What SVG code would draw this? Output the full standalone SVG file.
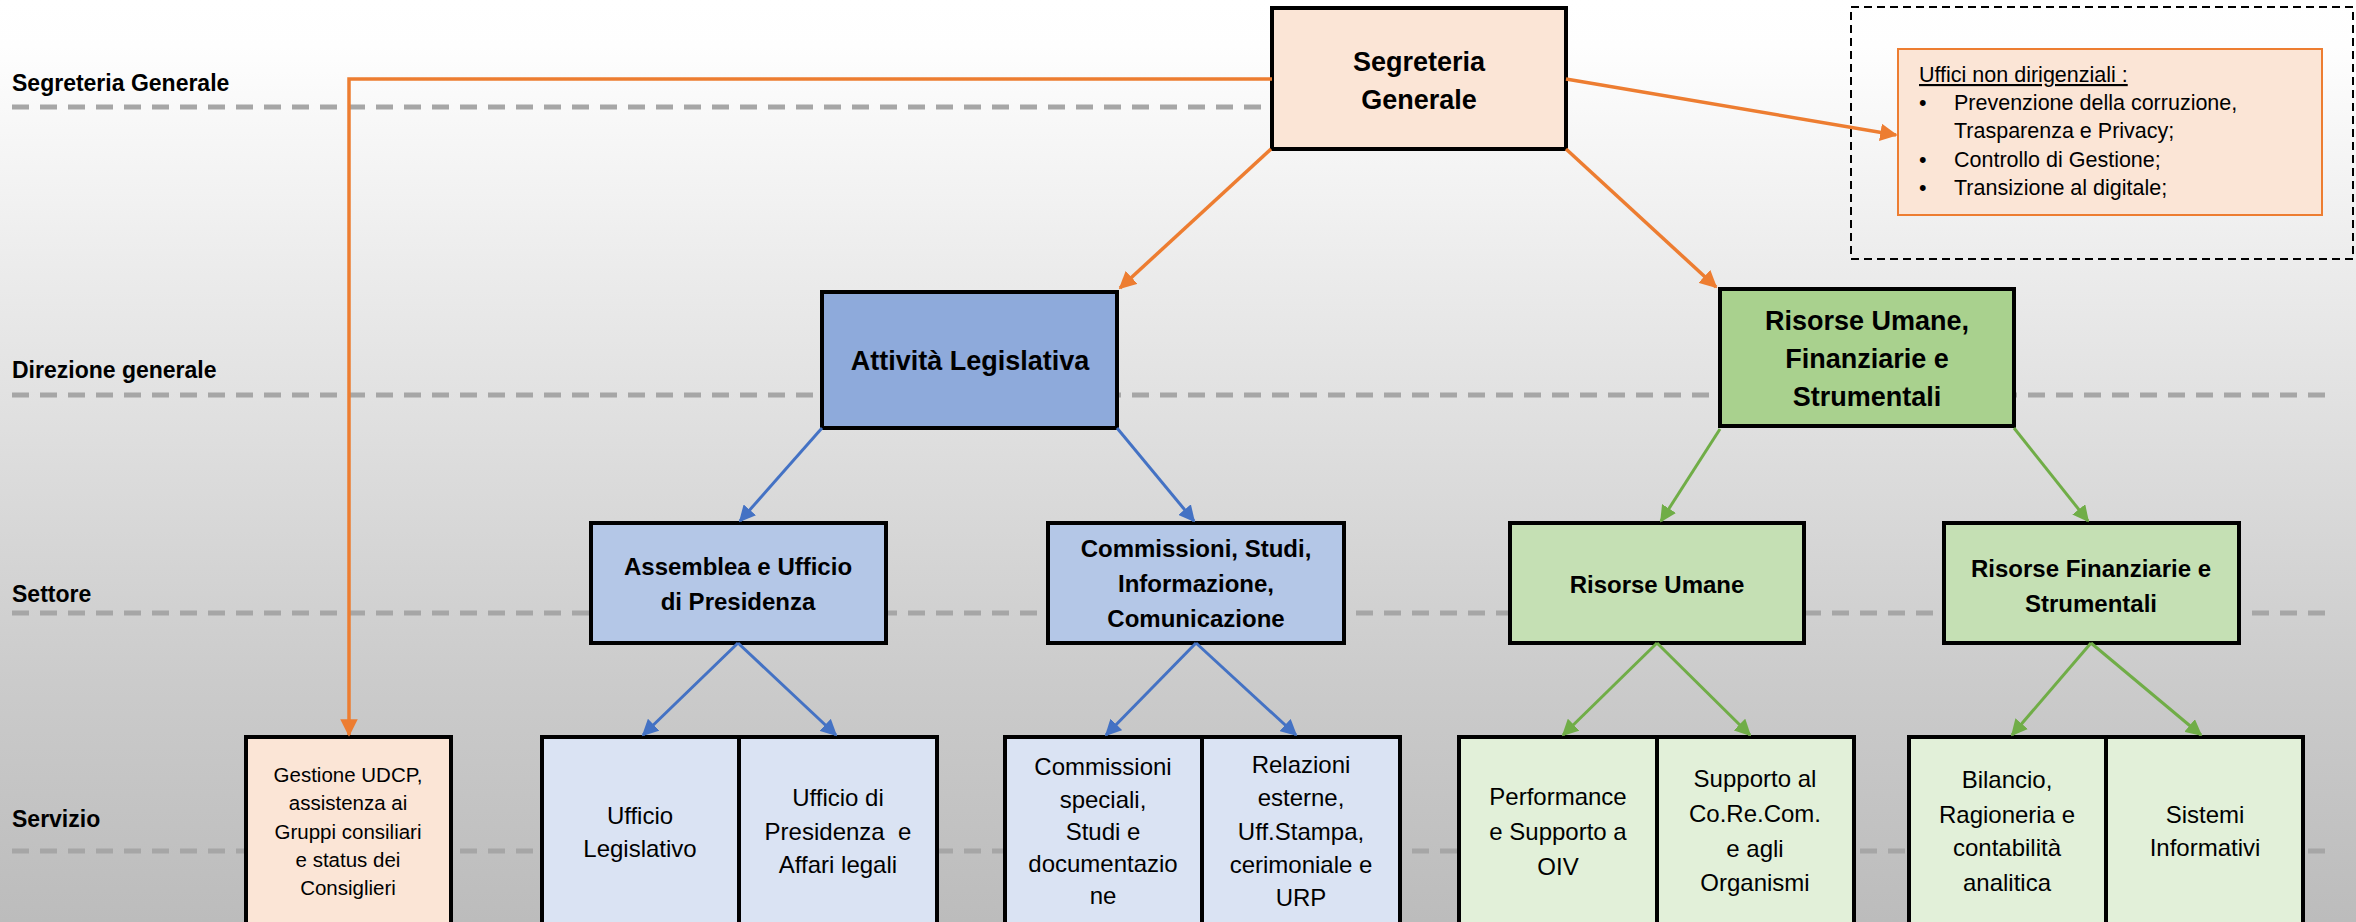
<svg xmlns="http://www.w3.org/2000/svg" width="2356" height="922" viewBox="0 0 2356 922">
<defs>
<linearGradient id="bg" x1="0" y1="0" x2="0" y2="1">
<stop offset="0" stop-color="#ffffff"/>
<stop offset="0.05" stop-color="#fefefe"/>
<stop offset="0.3" stop-color="#ebebeb"/>
<stop offset="0.74" stop-color="#cbcbcb"/>
<stop offset="1" stop-color="#bcbcbc"/>
</linearGradient>
<marker id="aO" viewBox="0 0 10 10" refX="9" refY="5" markerWidth="5" markerHeight="5" orient="auto" markerUnits="strokeWidth"><path d="M0,0 L10,5 L0,10 z" fill="#ed7d31"/></marker>
<marker id="aB" viewBox="0 0 10 10" refX="9" refY="5" markerWidth="5.5" markerHeight="5.5" orient="auto" markerUnits="strokeWidth"><path d="M0,0 L10,5 L0,10 z" fill="#4472c4"/></marker>
<marker id="aG" viewBox="0 0 10 10" refX="9" refY="5" markerWidth="5.5" markerHeight="5.5" orient="auto" markerUnits="strokeWidth"><path d="M0,0 L10,5 L0,10 z" fill="#70ad47"/></marker>
<style>
.lvl{stroke:#a6a6a6;stroke-width:5;stroke-dasharray:17 11;fill:none}
.lbl{font-family:"Liberation Sans",Arial,sans-serif;font-weight:bold;font-size:23px;fill:#000}
.box{stroke:#000;stroke-width:4}
.t1{font-family:"Liberation Sans",Arial,sans-serif;font-weight:bold;font-size:27px;text-anchor:middle;fill:#000}
.t2{font-family:"Liberation Sans",Arial,sans-serif;font-weight:bold;font-size:24px;text-anchor:middle;fill:#000}
.t3{font-family:"Liberation Sans",Arial,sans-serif;font-size:24px;text-anchor:middle;fill:#000}
.t4{font-family:"Liberation Sans",Arial,sans-serif;font-size:20.5px;text-anchor:middle;fill:#000}
.tu{font-family:"Liberation Sans",Arial,sans-serif;font-size:21.5px;fill:#000}
.peach{fill:#fbe5d6}
.b1{fill:#8eaadb}.b2{fill:#b4c7e7}.b3{fill:#dae3f3}
.g1{fill:#a9d18e}.g2{fill:#c5e0b4}.g3{fill:#e2f0d9}
.co{stroke:#ed7d31;stroke-width:3.5;fill:none;marker-end:url(#aO)}
.cb{stroke:#4472c4;stroke-width:3;fill:none;marker-end:url(#aB)}
.cg{stroke:#70ad47;stroke-width:3;fill:none;marker-end:url(#aG)}
</style>
</defs>
<rect x="0" y="0" width="2356" height="922" fill="url(#bg)"/>
<g id="levels">
<line class="lvl" x1="12" y1="107" x2="1268" y2="107"/>
<line class="lvl" x1="12" y1="395" x2="2326" y2="395"/>
<line class="lvl" x1="12" y1="613" x2="2326" y2="613"/>
<line class="lvl" x1="12" y1="851" x2="2326" y2="851"/>
<text class="lbl" x="12" y="91">Segreteria Generale</text>
<text class="lbl" x="12" y="378">Direzione generale</text>
<text class="lbl" x="12" y="602">Settore</text>
<text class="lbl" x="12" y="827">Servizio</text>
</g>
<g id="uffici">
<rect x="1851" y="7" width="502" height="252" fill="none" stroke="#000" stroke-width="2" stroke-dasharray="8 5"/>
<rect x="1898" y="49" width="424" height="166" class="peach" stroke="#ed7d31" stroke-width="2"/>
<text class="tu" x="1919" y="82" text-decoration="underline">Uffici non dirigenziali :</text>
<text class="tu" x="1919" y="110">•</text>
<text class="tu" x="1954" y="110">Prevenzione della corruzione,</text>
<text class="tu" x="1954" y="138">Trasparenza e Privacy;</text>
<text class="tu" x="1919" y="167">•</text>
<text class="tu" x="1954" y="167">Controllo di Gestione;</text>
<text class="tu" x="1919" y="195">•</text>
<text class="tu" x="1954" y="195">Transizione al digitale;</text>
</g>
<g id="segreteria">
<rect x="1272" y="8" width="294" height="141" class="box peach"/>
<text class="t1" x="1419" y="71">Segreteria</text>
<text class="t1" x="1419" y="109">Generale</text>
</g>
<g id="attivita">
<rect x="822" y="292" width="295" height="136" class="box b1"/>
<text class="t1" x="970" y="370">Attività Legislativa</text>
</g>
<g id="risorse">
<rect x="1720" y="289" width="294" height="137" class="box g1"/>
<text class="t1" x="1867" y="330">Risorse Umane,</text>
<text class="t1" x="1867" y="368">Finanziarie e</text>
<text class="t1" x="1867" y="406">Strumentali</text>
</g>
<g id="assemblea">
<rect x="591" y="523" width="295" height="120" class="box b2"/>
<text class="t2" x="738" y="575">Assemblea e Ufficio</text>
<text class="t2" x="738" y="610">di Presidenza</text>
</g>
<g id="commissioni">
<rect x="1048" y="523" width="296" height="120" class="box b2"/>
<text class="t2" x="1196" y="557">Commissioni, Studi,</text>
<text class="t2" x="1196" y="592">Informazione,</text>
<text class="t2" x="1196" y="627">Comunicazione</text>
</g>
<g id="risorse-umane">
<rect x="1510" y="523" width="294" height="120" class="box g2"/>
<text class="t2" x="1657" y="593">Risorse Umane</text>
</g>
<g id="risorse-finanziarie">
<rect x="1944" y="523" width="295" height="120" class="box g2"/>
<text class="t2" x="2091" y="577">Risorse Finanziarie e</text>
<text class="t2" x="2091" y="612">Strumentali</text>
</g>
<g id="gestione">
<rect x="246" y="737" width="205" height="200" class="box peach"/>
<text class="t4" x="348" y="782">Gestione UDCP,</text>
<text class="t4" x="348" y="810">assistenza ai</text>
<text class="t4" x="348" y="839">Gruppi consiliari</text>
<text class="t4" x="348" y="867">e status dei</text>
<text class="t4" x="348" y="895">Consiglieri</text>
</g>
<g id="ufficio-legislativo">
<rect x="542" y="737" width="197" height="200" class="box b3"/>
<text class="t3" x="640" y="824">Ufficio</text>
<text class="t3" x="640" y="857">Legislativo</text>
</g>
<g id="ufficio-presidenza">
<rect x="739" y="737" width="198" height="200" class="box b3"/>
<text class="t3" x="838" y="806">Ufficio di</text>
<text class="t3" x="838" y="840" xml:space="preserve">Presidenza  e</text>
<text class="t3" x="838" y="873">Affari legali</text>
</g>
<g id="commissioni-speciali">
<rect x="1005" y="737" width="197" height="200" class="box b3"/>
<text class="t3" x="1103" y="775">Commissioni</text>
<text class="t3" x="1103" y="808">speciali,</text>
<text class="t3" x="1103" y="840">Studi e</text>
<text class="t3" x="1103" y="872">documentazio</text>
<text class="t3" x="1103" y="904">ne</text>
</g>
<g id="relazioni">
<rect x="1202" y="737" width="198" height="200" class="box b3"/>
<text class="t3" x="1301" y="773">Relazioni</text>
<text class="t3" x="1301" y="806">esterne,</text>
<text class="t3" x="1301" y="840">Uff.Stampa,</text>
<text class="t3" x="1301" y="873">cerimoniale e</text>
<text class="t3" x="1301" y="906">URP</text>
</g>
<g id="performance">
<rect x="1459" y="737" width="198" height="200" class="box g3"/>
<text class="t3" x="1558" y="805">Performance</text>
<text class="t3" x="1558" y="840">e Supporto a</text>
<text class="t3" x="1558" y="875">OIV</text>
</g>
<g id="supporto">
<rect x="1657" y="737" width="197" height="200" class="box g3"/>
<text class="t3" x="1755" y="787">Supporto al</text>
<text class="t3" x="1755" y="822">Co.Re.Com.</text>
<text class="t3" x="1755" y="857">e agli</text>
<text class="t3" x="1755" y="891">Organismi</text>
</g>
<g id="bilancio">
<rect x="1909" y="737" width="197" height="200" class="box g3"/>
<text class="t3" x="2007" y="788">Bilancio,</text>
<text class="t3" x="2007" y="823">Ragioneria e</text>
<text class="t3" x="2007" y="856">contabilità</text>
<text class="t3" x="2007" y="891">analitica</text>
</g>
<g id="sistemi">
<rect x="2106" y="737" width="197" height="200" class="box g3"/>
<text class="t3" x="2205" y="823">Sistemi</text>
<text class="t3" x="2205" y="856">Informativi</text>
</g>
<g id="connectors">
<path class="co" d="M1272,79 H349 V735"/>
<line class="co" x1="1566" y1="79" x2="1896" y2="135"/>
<line class="co" x1="1271" y1="149" x2="1120" y2="288"/>
<line class="co" x1="1566" y1="149" x2="1716" y2="287"/>
<line class="cb" x1="822" y1="428" x2="740" y2="521"/>
<line class="cb" x1="1117" y1="428" x2="1194" y2="521"/>
<line class="cg" x1="1720" y1="429" x2="1661" y2="521"/>
<line class="cg" x1="2014" y1="428" x2="2088" y2="521"/>
<line class="cb" x1="738" y1="643" x2="643" y2="735"/>
<line class="cb" x1="738" y1="643" x2="836" y2="735"/>
<line class="cb" x1="1196" y1="643" x2="1106" y2="735"/>
<line class="cb" x1="1196" y1="643" x2="1296" y2="735"/>
<line class="cg" x1="1657" y1="643" x2="1563" y2="735"/>
<line class="cg" x1="1657" y1="643" x2="1750" y2="735"/>
<line class="cg" x1="2091" y1="643" x2="2012" y2="735"/>
<line class="cg" x1="2091" y1="643" x2="2201" y2="735"/>
</g>
</svg>
